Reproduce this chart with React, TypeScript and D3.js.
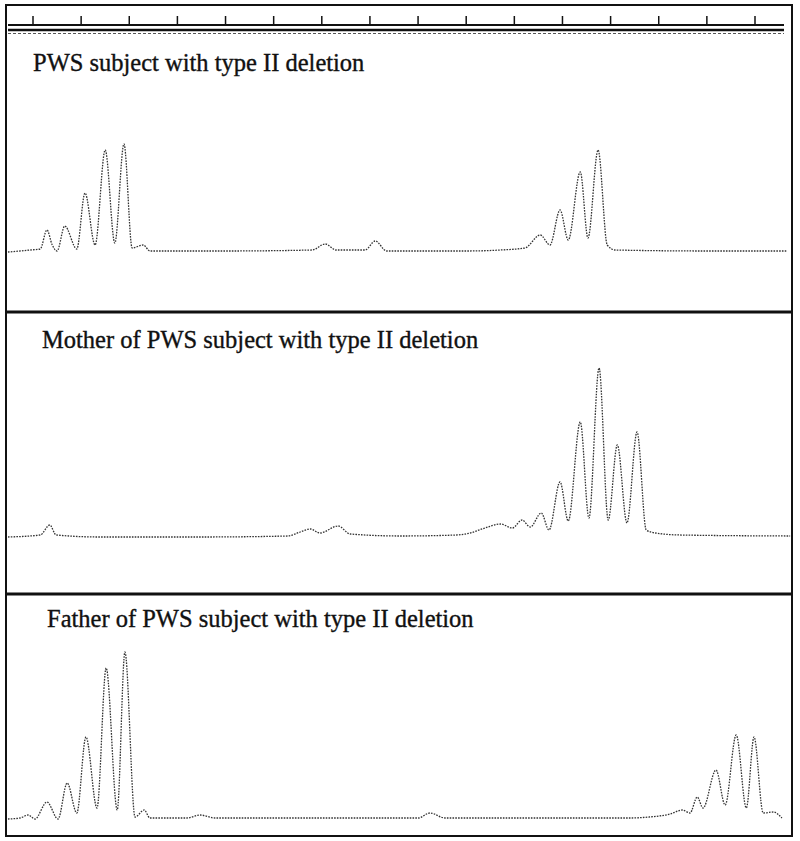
import React, { useEffect, useRef } from 'react';
import * as d3 from 'd3';

// scan position (u) and signal height for each trace
const panelTitles = [
  'PWS subject with type II deletion',
  'Mother of PWS subject with type II deletion',
  'Father of PWS subject with type II deletion',
];

const scanTicks = [0, 10, 20, 30, 40, 50, 60, 70, 80, 90, 100, 110, 120, 130, 140, 150];

const subjectScan = [-5.2, -2.7, -0.6, 1.5, 2.9, 4.0, 5.0, 6.6, 9.1, 10.8, 12.9, 15.0, 17.0, 18.9, 20.6, 22.9, 24.3, 40, 58, 60.7, 63, 69, 71.1, 73.5, 90, 97.1, 102.2, 105.4, 107.4, 109.5, 111.2, 113.7, 115.3, 117.4, 119.3, 121, 140, 156.5];
const subjectSignal = [0, 1, 2, 3, 22, 7, 1, 26, 3, 59, 7, 102, 9, 108, 4, 7, 1, 1, 2, 8, 2, 2, 11, 1, 1, 2, 4, 17, 7, 42, 12, 80, 14, 102, 7, 2, 1, 1];

const motherScan = [-5.2, 1.5, 3.5, 4.8, 13.9, 34.7, 53, 55.5, 57.6, 59.6, 63.4, 65.9, 76.3, 88, 90.8, 93.9, 97.1, 99.6, 101.6, 103.3, 105.6, 107.2, 109.5, 111.2, 113.7, 115.5, 117.6, 119.5, 121.4, 123.4, 125.5, 127.4, 129.3, 134.5, 157.3];
const motherSignal = [0, 2, 12, 2, 0, 0, 1, 5, 8, 4, 11, 3, 1, 2, 4, 9, 13, 9, 17, 10, 24, 7, 55, 16, 115, 19, 169, 17, 92, 14, 105, 7, 4, 2, 1];

const fatherScan = [-5.2, -2.7, -1.0, 0.4, 2.9, 5.2, 7.1, 9.1, 11.0, 13.3, 15.2, 17.5, 19.1, 21.2, 23.1, 24.3, 32, 34.7, 37.8, 60, 80, 82.5, 85.6, 124, 128, 132.4, 134.9, 136.5, 138.0, 139.2, 141.9, 143.8, 146.1, 148.2, 149.8, 151.7, 153.8, 155.6];
const fatherSignal = [0, 1, 4, 0, 17, 0, 36, 6, 82, 11, 151, 9, 167, 2, 9, 1, 1, 4, 1, 1, 1, 6, 1, 1, 2, 5, 9, 6, 22, 11, 49, 14, 84, 11, 82, 6, 7, 1];

const traces = [
  { scan: subjectScan, signal: subjectSignal },
  { scan: motherScan, signal: motherSignal },
  { scan: fatherScan, signal: fatherSignal },
];

const App = () => {
  const svgRef = useRef(null);

  useEffect(() => {
    if (!svgRef.current) return;
    const width = 800;
    const height = 841;

    const svg = d3.select(svgRef.current)
                  .attr('width', width)
                  .attr('height', height);
    svg.selectAll('*').remove();

    const x = d3.scaleLinear().domain([0, 150]).range([33, 755]);

    // outer frame
    svg.append('rect')
       .attr('x', 6).attr('y', 5)
       .attr('width', 786).attr('height', 831)
       .attr('fill', 'none')
       .attr('stroke', '#111')
       .attr('stroke-width', 2);

    // scan axis along the top
    svg.append('line')
       .attr('x1', 8).attr('x2', 784)
       .attr('y1', 25).attr('y2', 25)
       .attr('stroke', '#111').attr('stroke-width', 2);
    svg.selectAll('.tick')
       .data(scanTicks)
       .enter()
       .append('line')
       .attr('class', 'tick')
       .attr('x1', d => x(d)).attr('x2', d => x(d))
       .attr('y1', 16).attr('y2', 25)
       .attr('stroke', '#111').attr('stroke-width', 1.5);
    svg.append('line')
       .attr('x1', 8).attr('x2', 784)
       .attr('y1', 30).attr('y2', 30)
       .attr('stroke', '#111').attr('stroke-width', 2.5);
    svg.append('line')
       .attr('x1', 8).attr('x2', 784)
       .attr('y1', 33.5).attr('y2', 33.5)
       .attr('stroke', '#555').attr('stroke-width', 1)
       .attr('stroke-dasharray', '3,2');

    const panels = [
      { titleX: 33, titleY: 71, base: 252, sepY: 312 },
      { titleX: 42, titleY: 348, base: 537, sepY: 594 },
      { titleX: 47, titleY: 627, base: 819, sepY: null },
    ];

    panels.forEach((p, i) => {
      const y = d3.scaleLinear().domain([0, 100]).range([p.base, p.base - 100]);
      const t = traces[i];
      const pts = t.scan.map((s, k) => [s, t.signal[k]]);

      svg.append('text')
         .attr('x', p.titleX).attr('y', p.titleY)
         .attr('font-family', '"Liberation Serif", "Times New Roman", serif')
         .attr('font-size', 24.5)
         .attr('fill', '#111')
         .attr('stroke', '#111')
         .attr('stroke-width', 0.35)
         .text(panelTitles[i]);

      const line = d3.line()
                     .x(d => x(d[0]))
                     .y(d => y(d[1]))
                     .curve(d3.curveMonotoneX);

      svg.append('path')
         .datum(pts)
         .attr('d', line)
         .attr('fill', 'none')
         .attr('stroke', '#333')
         .attr('stroke-width', 1.3)
         .attr('stroke-dasharray', '1.6,1.2');

      if (p.sepY) {
        svg.append('line')
           .attr('x1', 6).attr('x2', 792)
           .attr('y1', p.sepY).attr('y2', p.sepY)
           .attr('stroke', '#111').attr('stroke-width', 3);
      }
    });
  }, []);

  return (
    <div style={{ position: 'absolute', left: 0, top: 0, background: '#fff' }}>
      <svg ref={svgRef}></svg>
    </div>
  );
};

export default App;
